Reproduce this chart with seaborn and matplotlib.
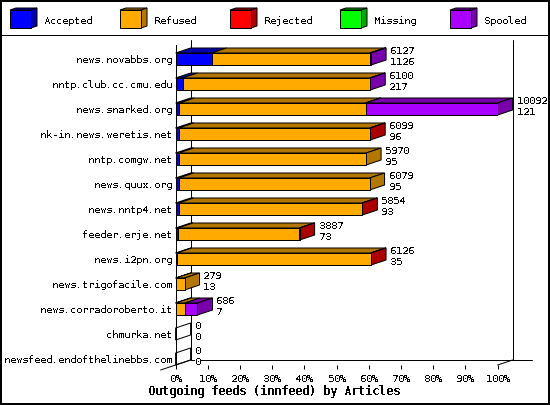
import matplotlib
matplotlib.use("Agg")
import matplotlib.pyplot as plt
from matplotlib.patches import Polygon, Rectangle
import seaborn as sns

hosts = ["news.novabbs.org", "nntp.club.cc.cmu.edu", "news.snarked.org", "nk-in.news.weretis.net",
         "nntp.comgw.net", "news.quux.org", "news.nntp4.net", "feeder.erje.net", "news.i2pn.org",
         "news.trigofacile.com", "news.corradoroberto.it", "chmurka.net", "newsfeed.endofthelinebbs.com"]
totals = [6127, 6100, 10092, 6099, 5970, 6079, 5854, 3887, 6126, 279, 686, 0, 0]
accepted = [1126, 217, 121, 96, 95, 95, 93, 73, 35, 13, 7, 0, 0]
refused = [4961, 5873, 5831, 5995, 5875, 5984, 5753, 3808, 6085, 266, 281, 0, 0]
rejected = [30, 0, 5, 8, 0, 0, 8, 6, 6, 0, 0, 0, 0]
missing = [0, 0, 0, 0, 0, 0, 0, 0, 0, 0, 0, 0, 0]
spooled = [10, 10, 4135, 0, 0, 0, 0, 0, 0, 0, 398, 0, 0]
series_names = ["Accepted", "Refused", "Rejected", "Missing", "Spooled"]
series_values = [accepted, refused, rejected, missing, spooled]
front_colors = ["#0000FF", "#FFAA00", "#FF0000", "#00FF00", "#AA00FF"]
dark_colors = ["#0000AA", "#B37700", "#AA0000", "#00AA00", "#7700AA"]
tick_values = list(range(0, 101, 10))
title = "Outgoing feeds (innfeed) by Articles"

sns.set_theme(style="white")
plt.rcParams.update({
    "font.family": ["DejaVu Sans Mono"],
    "text.antialiased": False,
    "patch.antialiased": True,
    "lines.antialiased": True,
    "text.hinting": "no_autohint",
    "text.hinting_factor": 1,
    "axes.edgecolor": "black",
})

W, H = 550, 405
PX = 0.72
FS = 7.4
fig = plt.figure(figsize=(W / 100, H / 100), dpi=100, facecolor="white")
X0, X1, YTOP, YBOT = 175.6, 497.6, 40.0, 365.0
ax = fig.add_axes([X0 / W, 1 - YBOT / H, (X1 - X0) / W, (YBOT - YTOP) / H])
ax.patch.set_alpha(0)

peak = max(totals)
DX = 15 / (X1 - X0) * 100
DY = 5 / 25
BAR_H = 12 / 25


def pct(v):
    return v / peak * 100


# Front faces, stacked, with their top faces
lefts = [0.0] * len(hosts)
for k, (vals, col) in enumerate(zip(series_values, front_colors)):
    widths = [pct(v) for v in vals]
    sns.barplot(y=hosts, x=widths, left=lefts, orient="h", color=col, width=BAR_H, saturation=1,
                edgecolor="black", linewidth=PX, errorbar=None, ax=ax, zorder=3, order=hosts)
    for i, (l, w) in enumerate(zip(lefts, widths)):
        if w > 0:
            t = i - BAR_H / 2
            ax.add_patch(Polygon([(l, t), (l + DX, t - DY), (l + w + DX, t - DY), (l + w, t)],
                                 closed=True, facecolor=dark_colors[k], edgecolor="black",
                                 lw=PX, clip_on=False, zorder=2))
    lefts = [l + w for l, w in zip(lefts, widths)]

# Right side faces and value labels
for i in range(len(hosts)):
    last = None
    for k, vals in enumerate(series_values):
        if vals[i] > 0:
            last = k
    end = lefts[i]
    t, b = i - BAR_H / 2, i + BAR_H / 2
    ax.add_patch(Polygon([(end, t), (end + DX, t - DY), (end + DX, b - DY), (end, b)],
                         closed=True, facecolor="none" if last is None else dark_colors[last],
                         edgecolor="black", lw=PX, clip_on=False, zorder=2))
    tx = end + DX + 1.24
    ax.text(tx, i - 0.31, str(totals[i]), ha="left", va="center", fontsize=FS, color="black",
            bbox=dict(facecolor="white", edgecolor="none", pad=0), zorder=4)
    ax.text(tx, i + 0.13, str(accepted[i]), ha="left", va="center", fontsize=FS, color="black",
            bbox=dict(facecolor="white", edgecolor="none", pad=0), zorder=4)

# Back wall and floor
ax.plot([DX, DX], [12.04, -0.76], color="black", lw=PX, clip_on=False, zorder=1)
ax.plot([DX + 100, DX + 100], [12.04, -0.76], color="black", lw=PX, clip_on=False, zorder=1)
ax.plot([DX, 110.6], [12.04, 12.04], color="black", lw=PX, clip_on=False, zorder=1)
ax.plot([-DX, DX], [12.44, 12.04], color="black", lw=PX, clip_on=False, zorder=1)
ax.plot([100, DX + 100], [12.24, 12.04], color="black", lw=PX, clip_on=False, zorder=1)

ax.set_xlim(0, 100)
ax.set_ylim(12.24, -0.76)
for s in ["top", "right", "bottom"]:
    ax.spines[s].set_visible(False)
ax.spines["left"].set_linewidth(PX)
ax.spines["left"].set_bounds(12.24, -0.56)
ax.spines["left"].set_zorder(1)
ax.set_xticks(tick_values)
ax.set_xticklabels([f"{v}%" for v in tick_values], fontsize=FS, color="black")
ax.tick_params(axis="x", bottom=True, length=3.2, width=PX, pad=3.4, color="black")
ax.tick_params(axis="y", left=False, length=0, pad=2.6, labelsize=FS, labelcolor="black")
ax.set_ylabel("")
ax.set_xlabel(title, fontsize=8.4, fontweight="bold", color="black", va="center")
ax.xaxis.set_label_coords((274 - X0) / (X1 - X0), -(392 - YBOT) / (YBOT - YTOP))

# Frame and legend in pixel coordinates
ov = fig.add_axes([0, 0, 1, 1], facecolor="none")
ov.set_xlim(0, W)
ov.set_ylim(H, 0)
ov.axis("off")
ov.add_patch(Rectangle((0.5, 0.5), W - 1.5, H - 1.5, fill=False, edgecolor="black", lw=1.44))
ov.plot([0, W], [35, 35], color="black", lw=PX)
for n, (name, fc, dc) in enumerate(zip(series_names, front_colors, dark_colors)):
    x = 10 + 110 * n
    ov.add_patch(Polygon([(x, 10), (x + 6, 8), (x + 27, 8), (x + 21, 10)], closed=True,
                         facecolor=dc, edgecolor="black", lw=PX))
    ov.add_patch(Polygon([(x + 21, 10), (x + 27, 8), (x + 27, 26), (x + 21, 28)], closed=True,
                         facecolor=dc, edgecolor="black", lw=PX))
    ov.add_patch(Rectangle((x, 10), 21, 18, facecolor=fc, edgecolor="black", lw=PX))
    ov.text(x + 34, 20.8, name, ha="left", va="center", fontsize=FS, color="black")

fig.savefig("out.png", dpi=100)
